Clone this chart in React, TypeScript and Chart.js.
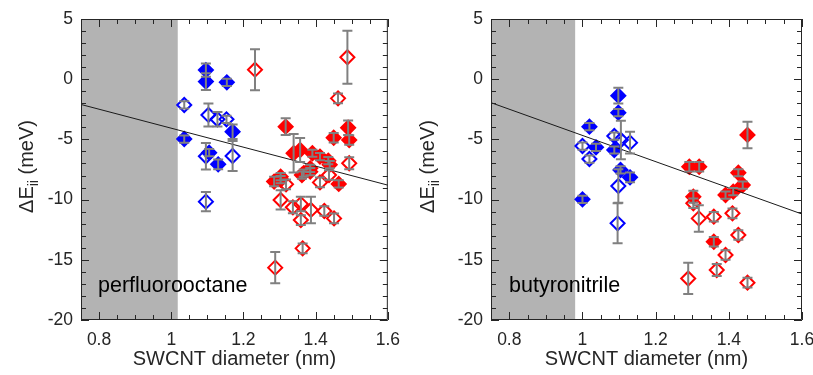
import React, { useEffect, useRef } from "react";
import { Chart, registerables } from "chart.js";

Chart.register(...registerables);

// [diameter (nm), ΔEii (meV), error (meV)]
type Pt = [number, number, number];

const X_MIN = 0.75;
const X_MAX = 1.6;
const Y_MIN = -20;
const Y_MAX = 5;
const xTickValues = [0.8, 1.0, 1.2, 1.4, 1.6];
const xTickLabels = ["0.8", "1", "1.2", "1.4", "1.6"];
const yTickValues = [-20, -15, -10, -5, 0, 5];
const yTickLabels = ["-20", "-15", "-10", "-5", "0", "5"];

// ---------- perfluorooctane ----------
const pfoBlueFilled: Pt[] = [
  [1.036, -4.97, 0.3],
  [1.096, 0.76, 0.55],
  [1.096, -0.2, 0.7],
  [1.154, -0.26, 0.3],
  [1.17, -4.36, 0.6],
  [1.105, -6.1, 0.3],
  [1.13, -7.07, 0.4],
];
const pfoBlueOpen: Pt[] = [
  [1.036, -2.14, 0.3],
  [1.103, -2.97, 0.95],
  [1.128, -3.33, 0.6],
  [1.153, -3.33, 0.3],
  [1.17, -6.38, 1.25],
  [1.096, -6.4, 1.1],
  [1.096, -10.17, 0.8],
];
const pfoRedFilled: Pt[] = [
  [1.317, -3.94, 0.7],
  [1.45, -4.86, 0.4],
  [1.49, -4.03, 0.6],
  [1.493, -5.05, 0.4],
  [1.339, -6.15, 1.6],
  [1.357, -5.88, 1.0],
  [1.391, -6.15, 0.3],
  [1.412, -6.43, 0.3],
  [1.435, -6.77, 0.3],
  [1.439, -7.1, 0.3],
  [1.367, -7.8, 0.3],
  [1.385, -7.4, 0.3],
  [1.303, -8.1, 0.3],
  [1.285, -8.5, 0.4],
  [1.303, -8.35, 0.3],
  [1.362, -7.96, 0.3],
  [1.385, -7.68, 0.3],
  [1.464, -8.7, 0.3],
];
const pfoRedOpen: Pt[] = [
  [1.232, 0.79, 1.7],
  [1.488, 1.82, 2.2],
  [1.462, -1.59, 0.4],
  [1.493, -6.98, 0.5],
  [1.318, -8.73, 0.4],
  [1.412, -8.57, 0.4],
  [1.437, -7.96, 0.4],
  [1.303, -10.03, 0.8],
  [1.337, -10.64, 0.5],
  [1.359, -10.37, 0.6],
  [1.359, -11.7, 0.4],
  [1.387, -10.86, 1.1],
  [1.424, -10.95, 0.4],
  [1.451, -11.56, 0.4],
  [1.364, -14.05, 0.4],
  [1.288, -15.65, 1.3],
];
const pfoFitX = [0.75, 1.6];
const pfoFitY = [-2.1, -8.8];

// ---------- butyronitrile ----------
const btnBlueFilled: Pt[] = [
  [1.098, -1.37, 0.65],
  [1.098, -2.78, 0.3],
  [1.019, -3.94, 0.3],
  [1.037, -5.66, 0.3],
  [1.087, -5.88, 0.3],
  [1.104, -7.54, 0.3],
  [1.13, -8.15, 0.4],
  [1.0, -9.98, 0.3],
];
const btnBlueOpen: Pt[] = [
  [1.0, -5.55, 0.3],
  [1.019, -6.63, 0.3],
  [1.087, -4.72, 0.3],
  [1.105, -5.05, 1.6],
  [1.13, -5.27, 0.9],
  [1.098, -8.87, 1.4],
  [1.096, -11.97, 1.66],
];
const btnRedFilled: Pt[] = [
  [1.292, -7.27, 0.4],
  [1.319, -7.27, 0.4],
  [1.451, -4.63, 1.1],
  [1.426, -7.77, 0.3],
  [1.438, -8.79, 0.3],
  [1.412, -9.34, 0.3],
  [1.391, -9.62, 0.3],
  [1.303, -9.76, 0.5],
  [1.359, -13.5, 0.4],
];
const btnRedOpen: Pt[] = [
  [1.303, -10.3, 0.4],
  [1.318, -11.56, 1.1],
  [1.359, -11.42, 0.4],
  [1.41, -11.14, 0.4],
  [1.426, -12.94, 0.4],
  [1.391, -14.6, 0.4],
  [1.367, -15.85, 0.5],
  [1.289, -16.55, 1.3],
  [1.451, -16.9, 0.4],
];
const btnFitX = [0.75, 1.6];
const btnFitY = [-1.95, -11.2];

const FONT = '"Liberation Sans", Arial, Helvetica, sans-serif';
const AXIS_COLOR = "#262626";
const BLUE = "#0000ff";
const RED = "#ff0000";

interface PanelProps {
  blueFilled: Pt[];
  blueOpen: Pt[];
  redFilled: Pt[];
  redOpen: Pt[];
  fitX: number[];
  fitY: number[];
  shadeEnd: number;
  label: string;
  labelX: number;
  yTitleX: number;
  width: number;
  rightPad: number;
}

function scatterSet(points: Pt[], color: string, filled: boolean) {
  return {
    type: "scatter" as const,
    data: points.map((p) => ({ x: p[0], y: p[1] })),
    errs: points.map((p) => p[2]),
    pointStyle: "rectRot",
    pointRadius: 7,
    pointHoverRadius: 7,
    backgroundColor: filled ? color : "rgba(255,255,255,0)",
    borderColor: color,
    borderWidth: 2,
    showLine: false,
  };
}

function Panel(props: PanelProps) {
  const ref = useRef<HTMLCanvasElement | null>(null);

  useEffect(() => {
    if (!ref.current) return;
    const decor = {
      id: "panelDecor",
      beforeDatasetsDraw(chart: any) {
        const { ctx, chartArea: a, scales } = chart;
        const xs = scales.x;
        const xe = xs.getPixelForValue(props.shadeEnd);
        ctx.save();
        ctx.fillStyle = "#b3b3b3";
        ctx.fillRect(a.left, a.top, xe - a.left, a.bottom - a.top);
        ctx.restore();
      },
      afterDatasetsDraw(chart: any) {
        const { ctx, chartArea: a, scales } = chart;
        const xs = scales.x;
        const ys = scales.y;
        // error bars
        ctx.save();
        ctx.strokeStyle = "#808080";
        ctx.lineWidth = 2;
        chart.data.datasets.forEach((ds: any) => {
          if (!ds.errs) return;
          ds.data.forEach((p: any, j: number) => {
            const e = ds.errs[j];
            const px = xs.getPixelForValue(p.x);
            const t = ys.getPixelForValue(p.y + e);
            const b = ys.getPixelForValue(p.y - e);
            ctx.beginPath();
            ctx.moveTo(px, t);
            ctx.lineTo(px, b);
            ctx.moveTo(px - 5, t);
            ctx.lineTo(px + 5, t);
            ctx.moveTo(px - 5, b);
            ctx.lineTo(px + 5, b);
            ctx.stroke();
          });
        });
        ctx.restore();

        // frame + ticks
        ctx.save();
        ctx.strokeStyle = AXIS_COLOR;
        ctx.lineWidth = 1;
        ctx.beginPath();
        ctx.rect(a.left + 0.5, a.top + 0.5, a.right - a.left - 1, a.bottom - a.top - 1);
        ctx.stroke();
        ctx.beginPath();
        for (let k = 0; k <= 17; k++) {
          const v = Math.round((X_MIN + k * 0.05) * 1000) / 1000;
          const major = xTickValues.some((m) => Math.abs(m - v) < 1e-6);
          const len = major ? 8 : 5;
          const px = Math.round(xs.getPixelForValue(v)) + 0.5;
          ctx.moveTo(px, a.bottom);
          ctx.lineTo(px, a.bottom - len);
          ctx.moveTo(px, a.top);
          ctx.lineTo(px, a.top + len);
        }
        for (let v = Y_MIN; v <= Y_MAX; v++) {
          const major = v % 5 === 0;
          const len = major ? 8 : 5;
          const py = Math.round(ys.getPixelForValue(v)) + 0.5;
          ctx.moveTo(a.left, py);
          ctx.lineTo(a.left + len, py);
          ctx.moveTo(a.right, py);
          ctx.lineTo(a.right - len, py);
        }
        ctx.stroke();
        ctx.restore();
      },
      afterDraw(chart: any) {
        const { ctx, chartArea: a } = chart;
        ctx.save();
        ctx.fillStyle = AXIS_COLOR;
        // x title
        ctx.font = `20px ${FONT}`;
        ctx.textAlign = "center";
        ctx.textBaseline = "alphabetic";
        ctx.fillText("SWCNT diameter (nm)", (a.left + a.right) / 2, 365);
        // y title with subscript
        const cy = (a.top + a.bottom) / 2 - 3;
        ctx.translate(props.yTitleX, cy);
        ctx.rotate(-Math.PI / 2);
        ctx.textAlign = "left";
        const main1 = "\u0394E";
        const sub = "ii";
        const main2 = " (meV)";
        ctx.font = `20px ${FONT}`;
        const w1 = ctx.measureText(main1).width;
        const w3 = ctx.measureText(main2).width;
        ctx.font = `14px ${FONT}`;
        const w2 = ctx.measureText(sub).width;
        let sx = -(w1 + w2 + w3) / 2;
        ctx.font = `20px ${FONT}`;
        ctx.fillText(main1, sx, 0);
        sx += w1;
        ctx.font = `14px ${FONT}`;
        ctx.fillText(sub, sx, 5);
        sx += w2;
        ctx.font = `20px ${FONT}`;
        ctx.fillText(main2, sx, 0);
        ctx.restore();
        // panel label
        ctx.save();
        ctx.fillStyle = "#000000";
        ctx.font = `21.5px ${FONT}`;
        ctx.textAlign = "left";
        ctx.textBaseline = "alphabetic";
        ctx.fillText(props.label, props.labelX, 292);
        ctx.restore();
      },
    };

    const chart = new Chart(ref.current, {
      type: "scatter",
      data: {
        datasets: [
          {
            type: "line" as const,
            data: props.fitX.map((x, i) => ({ x, y: props.fitY[i] })),
            borderColor: "#1a1a1a",
            borderWidth: 1,
            pointRadius: 0,
            showLine: true,
            fill: false,
          } as any,
          scatterSet(props.redOpen, RED, false) as any,
          scatterSet(props.redFilled, RED, true) as any,
          scatterSet(props.blueOpen, BLUE, false) as any,
          scatterSet(props.blueFilled, BLUE, true) as any,
        ],
      },
      options: {
        animation: false,
        responsive: false,
        maintainAspectRatio: false,
        events: [],
        layout: { padding: { left: 0, right: props.rightPad, top: 19, bottom: 0 } },
        plugins: { legend: { display: false }, tooltip: { enabled: false } },
        scales: {
          x: {
            type: "linear",
            min: X_MIN,
            max: X_MAX,
            grid: { display: false, drawTicks: false },
            border: { display: false },
            afterBuildTicks: (s: any) => {
              s.ticks = xTickValues.map((v) => ({ value: v }));
            },
            afterFit: (s: any) => {
              s.height = 55;
            },
            ticks: {
              autoSkip: false,
              maxRotation: 0,
              padding: 10,
              color: AXIS_COLOR,
              font: { family: FONT, size: 17.5 },
              callback: (v: any) => {
                const i = xTickValues.findIndex((m) => Math.abs(m - Number(v)) < 1e-6);
                return i >= 0 ? xTickLabels[i] : "";
              },
            },
          },
          y: {
            type: "linear",
            min: Y_MIN,
            max: Y_MAX,
            grid: { display: false, drawTicks: false },
            border: { display: false },
            afterBuildTicks: (s: any) => {
              s.ticks = yTickValues.map((v) => ({ value: v }));
            },
            afterFit: (s: any) => {
              s.width = 81;
            },
            ticks: {
              autoSkip: false,
              padding: 8,
              color: AXIS_COLOR,
              font: { family: FONT, size: 17.5 },
              callback: (v: any) => {
                const i = yTickValues.indexOf(Number(v));
                return i >= 0 ? yTickLabels[i] : "";
              },
            },
          },
        },
      } as any,
      plugins: [decor as any],
    });
    return () => chart.destroy();
  }, []);

  return (
    <canvas
      ref={ref}
      width={props.width}
      height={375}
      style={{ display: "block", width: props.width, height: 375 }}
    />
  );
}

export default function App() {
  return (
    <div
      style={{
        position: "fixed",
        left: 0,
        top: 0,
        width: 813,
        height: 375,
        overflow: "hidden",
        background: "#ffffff",
      }}
    >
      <div style={{ position: "absolute", left: 0, top: 0, width: 410, height: 375 }}>
        <Panel
          blueFilled={pfoBlueFilled}
          blueOpen={pfoBlueOpen}
          redFilled={pfoRedFilled}
          redOpen={pfoRedOpen}
          fitX={pfoFitX}
          fitY={pfoFitY}
          shadeEnd={1.018}
          label="perfluorooctane"
          labelX={98}
          yTitleX={33}
          width={410}
          rightPad={18}
        />
      </div>
      <div style={{ position: "absolute", left: 410, top: 0, width: 430, height: 375 }}>
        <Panel
          blueFilled={btnBlueFilled}
          blueOpen={btnBlueOpen}
          redFilled={btnRedFilled}
          redOpen={btnRedOpen}
          fitX={btnFitX}
          fitY={btnFitY}
          shadeEnd={0.98}
          label="butyronitrile"
          labelX={99}
          yTitleX={24}
          width={430}
          rightPad={38}
        />
      </div>
    </div>
  );
}
